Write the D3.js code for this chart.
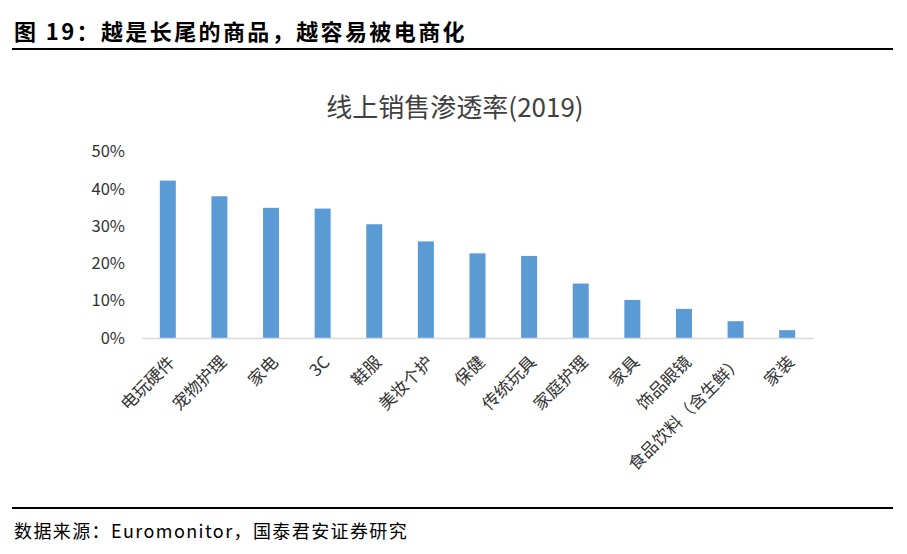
<!DOCTYPE html>
<html>
<head>
<meta charset="utf-8">
<script src="https://cdn.jsdelivr.net/npm/d3@7"></script>
<style>
  body { margin: 0; background: #fff; }
  text { font-family: "Noto Sans CJK SC", "Noto Sans", sans-serif; }
</style>
</head>
<body>
<div id="chart"></div>
<script>
// categories and values
var categories = ["电玩硬件", "宠物护理", "家电", "3C", "鞋服", "美妆个护", "保健", "传统玩具",
                  "家庭护理", "家具", "饰品眼镜", "食品饮料（含生鲜）", "家装"]
var penetration = [42.2, 38.0, 34.9, 34.7, 30.5, 25.9, 22.7, 22.0, 14.6, 10.2, 7.8, 4.5, 2.1]
var yTicks = [0, 10, 20, 30, 40, 50]

var width = 907
var height = 554
var barColor = "#5b9bd5"
var labelColor = "#333333"

var svg = d3.select("#chart").append("svg")
  .attr("width", width)
  .attr("height", height)

// header + rules
svg.append("text")
  .attr("x", 14)
  .attr("y", 40)
  .style("font-size", "22px")
  .style("font-weight", "bold")
  .style("letter-spacing", "2.4px")
  .style("fill", "#000")
  .text("图 19：越是长尾的商品，越容易被电商化")

svg.append("line")
  .attr("x1", 12).attr("x2", 893)
  .attr("y1", 49).attr("y2", 49)
  .style("stroke", "#000").style("stroke-width", 2)

svg.append("line")
  .attr("x1", 12).attr("x2", 893)
  .attr("y1", 508).attr("y2", 508)
  .style("stroke", "#000").style("stroke-width", 2)

svg.append("text")
  .attr("x", 14)
  .attr("y", 538)
  .style("font-size", "18px")
  .style("letter-spacing", "1.4px")
  .style("fill", "#000")
  .text("数据来源：Euromonitor，国泰君安证券研究")

// chart title
svg.append("text")
  .attr("x", 455)
  .attr("y", 117)
  .attr("text-anchor", "middle")
  .style("font-size", "26px")
  .style("fill", "#404040")
  .text("线上销售渗透率(2019)")

// scales
var x = d3.scaleBand()
  .domain(categories)
  .range([142, 813])
  .paddingInner(0.69)
  .paddingOuter(0.345)

var y = d3.scaleLinear()
  .domain([0, 50])
  .range([338, 151.5])

// y axis labels (no line, no ticks)
var yAxis = d3.axisLeft(y)
  .tickValues(yTicks)
  .tickFormat(function(d){ return d + "%" })
  .tickSize(0)
  .tickPadding(0)

var yG = svg.append("g")
  .attr("transform", "translate(125,0)")
  .call(yAxis)
yG.select(".domain").remove()
yG.selectAll("text")
  .style("font-size", "16.5px")
  .style("fill", labelColor)
  .style("font-family", "\"Noto Sans CJK SC\", sans-serif")

// bars
svg.selectAll(".bar")
  .data(penetration)
  .enter().append("rect")
  .attr("class", "bar")
  .attr("x", function(d, i){ return x(categories[i]) })
  .attr("width", x.bandwidth())
  .attr("y", function(d){ return y(d) })
  .attr("height", function(d){ return y(0) - y(d) })
  .style("fill", barColor)

// x axis
var xAxis = d3.axisBottom(x).tickSize(0).tickPadding(0)
var xG = svg.append("g")
  .attr("transform", "translate(0," + y(0) + ")")
  .call(xAxis)
xG.select(".domain")
  .style("stroke", "#d9d9d9")
  .style("stroke-width", 1.5)
xG.selectAll("text")
  .attr("text-anchor", "end")
  .attr("dy", "0.35em")
  .attr("transform", "translate(4,21) rotate(-45)")
  .style("font-size", "17px")
  .style("fill", labelColor)
  .style("font-family", "\"Noto Sans CJK SC\", sans-serif")
</script>
</body>
</html>
